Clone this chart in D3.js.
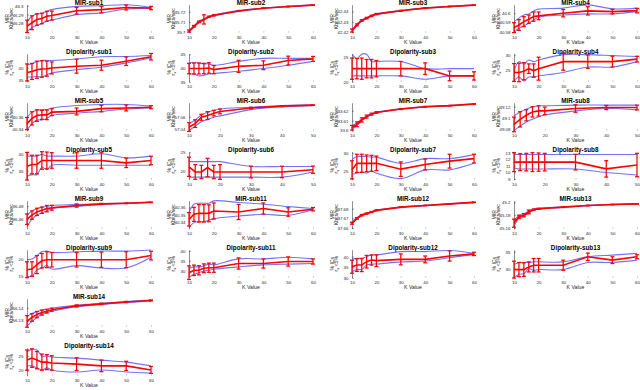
<!DOCTYPE html>
<html>
<head>
<meta charset="utf-8">
<script src="https://cdn.jsdelivr.net/npm/d3@7"></script>
<style>
  body { margin: 0; background: #fff; }
  text { font-family: "Liberation Sans", Arial, sans-serif; }
</style>
</head>
<body>
<script>
// -------------------- DATA --------------------
var kValues = [10, 12, 14, 16, 18, 20, 30, 40, 50, 60];
var kTicks = [10, 20, 30, 40, 50, 60];
var subjects = [1, 2, 3, 4, 5, 6, 7, 8, 9, 11, 12, 13, 14];
var shortSubjects = [6, 8];          // these only go up to K = 50

// MIR (Kbits/sec): red = mean with error bar, blue = lower / upper envelope
var mirMean = [
  [46.2767, 46.2808, 46.2844, 46.2856, 46.2881, 46.2889, 46.2944, 46.2956, 46.2981, 46.2974],
  [35.7010, 35.7057, 35.7100, 35.7124, 35.7150, 35.7164, 35.7207, 35.7234, 35.7250, 35.7264],
  [42.4216, 42.4271, 42.4313, 42.4336, 42.4358, 42.4375, 42.4407, 42.4433, 42.4449, 42.4462],
  [40.5843, 40.5872, 40.5908, 40.5935, 40.5963, 40.5971, 40.6000, 40.6025, 40.6017, 40.6028],
  [40.3491, 40.3572, 40.3616, 40.3627, 40.3627, 40.3670, 40.3681, 40.3725, 40.3735, 40.3746],
  [57.0437, 57.0491, 57.0589, 57.0616, 57.0654, 57.0681, 57.0735, 57.0763, 57.0779],
  [33.6028, 33.6063, 33.6107, 33.6141, 33.6166, 33.6183, 33.6218, 33.6241, 33.6252, 33.6269],
  [49.0890, 49.0980, 49.1051, 49.1110, 49.1128, 49.1128, 49.1170, 49.1187, 49.1187],
  [36.4600, 36.4663, 36.4712, 36.4737, 36.4762, 36.4776, 36.4810, 36.4835, 36.4844, 36.4859],
  [40.3433, 40.3504, 40.3518, 40.3518, 40.3518, 40.3551, 40.3537, 40.3586, 40.3537, 40.3576],
  [37.6650, 37.6700, 37.6733, 37.6750, 37.6766, 37.6783, 37.6816, 37.6833, 37.6850, 37.6866],
  [45.1676, 45.1775, 45.1800, 45.1850, 45.1886, 45.1900, 45.1925, 45.1950, 45.1965, 45.1976],
  [56.1292, 56.1323, 56.1346, 56.1362, 56.1373, 56.1385, 56.1415, 56.1431, 56.1446, 56.1458]
];
var mirErr = [
  [0.0070, 0.0078, 0.0065, 0.0060, 0.0056, 0.0050, 0.0037, 0.0037, 0.0028, 0.0019],
  [0.0010, 0.0008, 0.0007, 0.0045, 0.0006, 0.0007, 0.0005, 0.0004, 0.0003, 0.0003],
  [0.0015, 0.0009, 0.0008, 0.0007, 0.0006, 0.0006, 0.0005, 0.0004, 0.0003, 0.0003],
  [0.0054, 0.0058, 0.0054, 0.0045, 0.0050, 0.0042, 0.0040, 0.0045, 0.0025, 0.0024],
  [0.0095, 0.0103, 0.0090, 0.0070, 0.0075, 0.0054, 0.0054, 0.0051, 0.0046, 0.0024],
  [0.0068, 0.0060, 0.0046, 0.0062, 0.0043, 0.0038, 0.0011, 0.0008, 0.0005],
  [0.0024, 0.0024, 0.0022, 0.0015, 0.0010, 0.0008, 0.0005, 0.0004, 0.0003, 0.0003],
  [0.0129, 0.0134, 0.0098, 0.0090, 0.0090, 0.0066, 0.0066, 0.0036, 0.0042],
  [0.0081, 0.0064, 0.0056, 0.0049, 0.0049, 0.0037, 0.0025, 0.0008, 0.0005, 0.0004],
  [0.0095, 0.0100, 0.0124, 0.0124, 0.0120, 0.0114, 0.0107, 0.0079, 0.0060, 0.0024],
  [0.0010, 0.0008, 0.0007, 0.0006, 0.0005, 0.0005, 0.0004, 0.0003, 0.0003, 0.0003],
  [0.0063, 0.0025, 0.0025, 0.0030, 0.0010, 0.0008, 0.0006, 0.0005, 0.0004, 0.0004],
  [0.0046, 0.0030, 0.0025, 0.0020, 0.0015, 0.0012, 0.0008, 0.0006, 0.0005, 0.0004]
];
var mirLo = [
  [46.2708, 46.2752, 46.2778, 46.2800, 46.2826, 46.2837, 46.2900, 46.2919, 46.2963, 46.2970],
  [35.7002, 35.7045, 35.7090, 35.7116, 35.7144, 35.7159, 35.7203, 35.7231, 35.7248, 35.7262],
  [42.4205, 42.4262, 42.4305, 42.4330, 42.4353, 42.4371, 42.4404, 42.4431, 42.4447, 42.4460],
  [40.5793, 40.5836, 40.5865, 40.5891, 40.5927, 40.5956, 40.5981, 40.5992, 40.5992, 40.6017],
  [40.3384, 40.3491, 40.3546, 40.3546, 40.3572, 40.3616, 40.3654, 40.3681, 40.3719, 40.3735],
  [57.0384, 57.0449, 57.0519, 57.0556, 57.0589, 57.0611, 57.0709, 57.0755, 57.0772],
  [33.6011, 33.6050, 33.6098, 33.6135, 33.6162, 33.6180, 33.6216, 33.6239, 33.6250, 33.6267],
  [49.0783, 49.0860, 49.0932, 49.0980, 49.1026, 49.1057, 49.1128, 49.1170, 49.1146],
  [36.4482, 36.4600, 36.4663, 36.4697, 36.4727, 36.4762, 36.4796, 36.4822, 36.4840, 36.4856],
  [40.3314, 40.3386, 40.3400, 40.3400, 40.3423, 40.3443, 40.3480, 40.3504, 40.3490, 40.3570],
  [37.6640, 37.6693, 37.6728, 37.6746, 37.6763, 37.6780, 37.6814, 37.6831, 37.6848, 37.6864],
  [45.1625, 45.1750, 45.1785, 45.1830, 45.1876, 45.1893, 45.1920, 45.1946, 45.1962, 45.1973],
  [56.1254, 56.1292, 56.1323, 56.1346, 56.1362, 56.1373, 56.1408, 56.1427, 56.1442, 56.1454]
];
var mirHi = [
  [46.2815, 46.2881, 46.2907, 46.2911, 46.2937, 46.2956, 46.2993, 46.3000, 46.3011, 46.2981],
  [35.7016, 35.7062, 35.7106, 35.7129, 35.7154, 35.7168, 35.7210, 35.7236, 35.7252, 35.7266],
  [42.4224, 42.4278, 42.4319, 42.4341, 42.4362, 42.4378, 42.4410, 42.4435, 42.4451, 42.4464],
  [40.5908, 40.5946, 40.5981, 40.5992, 40.6025, 40.6044, 40.6055, 40.6090, 40.6047, 40.6055],
  [40.3589, 40.3670, 40.3698, 40.3709, 40.3709, 40.3735, 40.3774, 40.3790, 40.3790, 40.3763],
  [57.0491, 57.0546, 57.0627, 57.0665, 57.0698, 57.0719, 57.0746, 57.0774, 57.0785],
  [33.6045, 33.6076, 33.6116, 33.6147, 33.6170, 33.6186, 33.6220, 33.6243, 33.6254, 33.6271],
  [49.1039, 49.1110, 49.1159, 49.1200, 49.1218, 49.1218, 49.1230, 49.1230, 49.1230],
  [36.4663, 36.4727, 36.4762, 36.4785, 36.4796, 36.4810, 36.4825, 36.4838, 36.4847, 36.4862],
  [40.3537, 40.3647, 40.3661, 40.3661, 40.3661, 40.3695, 40.3671, 40.3647, 40.3614, 40.3586],
  [37.6658, 37.6706, 37.6738, 37.6754, 37.6769, 37.6786, 37.6818, 37.6835, 37.6852, 37.6868],
  [45.1715, 45.1795, 45.1815, 45.1865, 45.1895, 45.1907, 45.1930, 45.1954, 45.1968, 45.1979],
  [56.1331, 56.1354, 56.1369, 56.1381, 56.1388, 56.1396, 56.1419, 56.1435, 56.1450, 56.1462]
];
var mirYDomain = [
  [46.2695, 46.3012], [35.6994, 35.7268], [42.4195, 42.4466], [40.5788, 40.6092],
  [40.3380, 40.3817], [57.0380, 57.0817], [33.5998, 33.6282], [49.0780, 49.1272],
  [36.4453, 36.4884], [40.3300, 40.3697], [37.6593, 37.6883], [45.1590, 45.2025],
  [56.1250, 56.1472]
];
var mirYTicks = [
  [46.28, 46.29, 46.3], [35.7, 35.71, 35.72], [42.42, 42.43, 42.44], [40.58, 40.59, 40.6],
  [40.34, 40.36], [57.04, 57.06], [33.6, 33.61, 33.62], [49.08, 49.1, 49.12],
  [36.46, 36.48], [40.34, 40.35, 40.36], [37.66, 37.67, 37.68], [45.16, 45.18, 45.2],
  [56.13, 56.14]
];

// Dipolarity (% ICs with r_v < 5%)
var dipMean = [
  [38.2, 38.6, 39.3, 39.6, 39.7, 40.0, 40.7, 41.1, 42.7, 44.5],
  [39.8, 39.8, 39.8, 39.8, 40.0, 39.4, 40.6, 41.0, 42.7, 43.3],
  [22.7, 22.7, 22.7, 22.7, 22.7, 22.7, 22.7, 22.7, 21.2, 21.2],
  [24.4, 24.4, 24.8, 25.6, 25.0, 25.6, 27.8, 27.8, 27.8, 28.6],
  [36.3, 36.8, 36.8, 38.0, 38.0, 38.0, 38.0, 38.0, 37.3, 38.0],
  [21.1, 19.7, 19.7, 20.9, 19.7, 19.7, 19.7, 19.7, 20.3],
  [25.3, 27.1, 27.1, 27.1, 27.1, 27.1, 25.5, 26.8, 27.7, 28.4],
  [11.6, 11.6, 11.6, 11.6, 11.6, 11.6, 11.6, 10.56, 11.15],
  [16.9, 17.1, 18.4, 19.5, 19.8, 19.8, 19.8, 19.8, 19.8, 21.0],
  [29.0, 30.2, 30.2, 31.2, 31.5, 31.5, 33.6, 33.6, 34.6, 34.6],
  [35.2, 36.0, 36.0, 37.6, 38.4, 38.1, 38.7, 38.7, 40.3, 41.3],
  [29.7, 29.7, 29.7, 30.5, 31.0, 31.0, 31.0, 33.5, 32.5, 33.5],
  [23.6, 24.3, 23.6, 22.9, 22.9, 22.6, 22.2, 21.6, 21.6, 20.2]
];
var dipErr = [
  [3.4, 3.2, 3.4, 3.3, 3.0, 2.4, 2.8, 2.0, 1.7, 1.3],
  [1.9, 2.0, 2.0, 1.9, 1.9, 1.5, 2.2, 1.6, 1.6, 0.9],
  [2.2, 2.1, 2.2, 1.9, 1.9, 1.7, 1.5, 1.2, 1.0, 0.85],
  [2.8, 2.9, 2.7, 1.5, 2.1, 3.6, 2.7, 2.1, 1.7, 0.9],
  [4.1, 2.75, 2.75, 2.6, 2.5, 2.3, 2.3, 2.3, 1.4, 1.25],
  [2.6, 2.0, 1.8, 2.5, 1.8, 2.0, 1.6, 1.55, 1.0],
  [2.5, 2.5, 2.5, 2.3, 2.2, 2.0, 2.0, 1.5, 1.9, 1.2],
  [1.45, 1.3, 1.35, 1.45, 1.4, 1.35, 1.2, 1.26, 1.8],
  [2.3, 2.1, 2.6, 2.1, 2.3, 2.1, 2.1, 2.2, 2.3, 1.25],
  [3.4, 2.6, 2.3, 2.2, 2.3, 2.3, 2.8, 2.3, 2.3, 1.3],
  [3.1, 3.0, 3.1, 3.0, 2.4, 2.8, 2.6, 1.6, 2.4, 0.8],
  [2.5, 2.1, 2.0, 1.5, 2.0, 2.0, 1.5, 1.1, 1.0, 0.6],
  [3.5, 3.2, 3.0, 2.8, 2.6, 2.5, 2.2, 2.0, 1.6, 1.2]
];
var dipLo = [
  [36.4, 36.4, 36.6, 36.4, 37.3, 38.0, 39.3, 40.3, 42.0, 44.0],
  [37.8, 37.8, 37.1, 37.4, 37.8, 38.0, 38.8, 39.8, 41.0, 42.4],
  [21.2, 21.2, 21.2, 21.2, 21.2, 21.2, 21.2, 20.5, 21.2, 21.2],
  [21.7, 23.0, 21.7, 23.0, 23.0, 23.3, 24.4, 26.1, 26.1, 27.8],
  [33.3, 33.8, 33.8, 36.0, 35.3, 36.6, 36.6, 36.6, 36.6, 36.6],
  [18.3, 18.3, 18.3, 18.3, 18.3, 18.3, 18.3, 18.3, 19.7],
  [24.0, 24.4, 24.8, 24.4, 25.0, 24.4, 22.9, 25.3, 25.3, 27.1],
  [10.7, 10.55, 10.55, 10.55, 10.55, 10.55, 10.55, 10.0, 9.63],
  [15.0, 15.0, 16.9, 17.4, 18.1, 17.1, 18.1, 17.4, 17.4, 20.5],
  [26.7, 28.1, 29.0, 29.8, 30.2, 30.7, 31.9, 32.9, 33.3, 33.6],
  [32.7, 33.9, 33.9, 36.0, 36.5, 36.5, 37.5, 37.9, 39.5, 41.0],
  [27.3, 28.3, 28.5, 30.0, 29.5, 29.7, 29.7, 31.8, 31.8, 32.5],
  [21.6, 21.6, 20.9, 20.2, 20.9, 20.2, 19.5, 20.2, 19.5, 19.1]
];
var dipHi = [
  [41.2, 41.7, 42.6, 43.0, 43.0, 43.0, 43.6, 44.5, 44.6, 45.0],
  [41.8, 42.1, 41.8, 41.5, 41.5, 41.0, 42.4, 43.5, 43.5, 43.5],
  [25.7, 24.8, 25.7, 25.7, 24.2, 24.2, 24.2, 22.7, 22.7, 22.7],
  [24.8, 27.8, 27.0, 28.3, 27.8, 28.3, 30.0, 30.0, 29.7, 29.4],
  [39.3, 39.3, 39.3, 39.8, 39.3, 39.3, 39.3, 40.0, 38.8, 39.3],
  [22.5, 22.5, 22.5, 22.5, 22.5, 22.5, 21.2, 21.2, 21.2],
  [28.2, 29.0, 29.0, 29.0, 28.8, 28.8, 27.1, 28.4, 28.4, 29.5],
  [12.76, 12.76, 12.76, 12.76, 12.76, 12.76, 12.76, 12.76, 12.76],
  [19.8, 20.0, 21.0, 22.1, 22.3, 21.9, 22.1, 22.3, 22.3, 22.6],
  [31.2, 31.9, 31.9, 32.4, 33.3, 32.9, 35.9, 35.9, 36.7, 35.9],
  [38.7, 39.2, 39.2, 40.0, 40.8, 40.8, 42.4, 42.4, 42.9, 41.6],
  [31.2, 31.8, 31.8, 31.8, 32.0, 32.0, 32.0, 33.5, 34.0, 34.5],
  [26.4, 27.4, 27.1, 25.0, 25.0, 24.7, 24.3, 23.6, 22.9, 21.6]
];
var dipYDomain = [
  [34.5, 45.7], [35, 45.2], [20, 25.8], [21.5, 30.3],
  [32.3, 40.6], [17.6, 25.2], [22.6, 30.3], [8.9, 13.2],
  [14.6, 22.7], [26.5, 40.5], [30, 43.3], [27.3, 35.6],
  [18.2, 27.9]
];
var dipYTicks = [
  [35, 40], [35, 40, 45], [20, 25], [25, 30],
  [35, 40], [20, 25], [25, 30], [9, 10, 11, 12, 13],
  [15, 20], [30, 35, 40], [30, 35, 40], [30, 35],
  [20, 25]
];

// -------------------- LAYOUT --------------------
var W = 640, H = 390;
var colX = [[27, 151], [189, 313], [352, 474], [514, 637]];
var rowTop0 = 4.7, rowStep = 49, plotH = 28;
var tickFont = 4.4, labelFont = 5.2;

var svg = d3.select("body").append("svg")
  .attr("width", W)
  .attr("height", H);

var fmt = function(v) { return String(+v.toFixed(4)); };

function drawPanel(p) {
  var ks = kValues.slice(0, p.mean.length);
  var x0 = colX[p.col][0], x1 = colX[p.col][1];
  var top = rowTop0 + rowStep * p.row, bottom = top + plotH;

  var x = d3.scaleLinear().domain([10, ks[ks.length - 1]]).range([x0, x1]);
  var y = d3.scaleLinear().domain(p.domain).range([bottom, top]);

  var g = svg.append("g");

  // x axis: ticks + labels only
  var xa = g.append("g")
    .attr("transform", "translate(0," + bottom + ")")
    .call(d3.axisBottom(x)
      .tickValues(kTicks.filter(function(t) { return t <= ks[ks.length - 1]; }))
      .tickSize(-1.5).tickSizeOuter(0).tickPadding(3.4));
  xa.select(".domain").remove();
  xa.selectAll("line").attr("stroke", "#999").attr("stroke-width", 0.6);
  xa.selectAll("text").attr("font-size", tickFont).attr("fill", "#262626")
    .attr("font-family", "Liberation Sans, Arial, sans-serif");

  // y axis
  var ya = g.append("g")
    .attr("transform", "translate(" + x0 + ",0)")
    .call(d3.axisLeft(y).tickValues(p.ticks).tickFormat(fmt)
      .tickSize(-1.8).tickSizeOuter(0).tickPadding(3.5));
  ya.select(".domain").attr("stroke", "#444").attr("stroke-width", 0.6);
  ya.selectAll("line").attr("stroke", "#444").attr("stroke-width", 0.6);
  ya.selectAll("text").attr("font-size", tickFont).attr("fill", "#262626")
    .attr("font-family", "Liberation Sans, Arial, sans-serif");

  // labels
  g.append("text")
    .attr("x", (x0 + x1) / 2).attr("y", bottom + 11.3)
    .attr("text-anchor", "middle").attr("font-size", labelFont).attr("fill", "#262626")
    .text("K Value");

  var cy = (top + bottom) / 2;
  g.append("text")
    .attr("transform", "translate(" + (x0 - 19.8) + "," + cy + ") rotate(-90)")
    .attr("text-anchor", "middle").attr("dominant-baseline", "middle")
    .attr("font-size", labelFont).attr("fill", "#262626")
    .text(p.ylab[0]);
  var l2 = g.append("text")
    .attr("transform", "translate(" + (x0 - 15) + "," + cy + ") rotate(-90)")
    .attr("text-anchor", "middle").attr("dominant-baseline", "middle")
    .attr("font-size", labelFont).attr("fill", "#262626");
  if (p.kind === "dip") {
    l2.append("tspan").text("r");
    l2.append("tspan").attr("font-size", 3.8).attr("dy", 1).text("v");
    l2.append("tspan").attr("dy", -1).text(" <5%");
  } else {
    l2.text(p.ylab[1]);
  }

  g.append("text")
    .attr("x", (x0 + x1) / 2).attr("y", top - 0.2)
    .attr("text-anchor", "middle").attr("font-size", 6.3)
    .attr("font-weight", "bold").attr("fill", "#000")
    .text(p.title);

  // blue envelope
  var blueLine = d3.line()
    .x(function(d, i) { return x(ks[i]); })
    .y(function(d) { return y(d); })
    .curve(d3.curveCatmullRom);
  [p.lo, p.hi].forEach(function(arr) {
    g.append("path").attr("d", blueLine(arr))
      .attr("fill", "none").attr("stroke", "#4f4fff")
      .attr("stroke-opacity", 0.8).attr("stroke-width", 1.1);
  });

  // red mean line
  var redLine = d3.line()
    .x(function(d, i) { return x(ks[i]); })
    .y(function(d) { return y(d); });
  g.append("path").attr("d", redLine(p.mean))
    .attr("fill", "none").attr("stroke", "#ff0000").attr("stroke-width", 1.6);

  // error bars
  var eb = g.selectAll(".eb").data(p.mean).enter().append("g");
  eb.append("line")
    .attr("x1", function(d, i) { return x(ks[i]); })
    .attr("x2", function(d, i) { return x(ks[i]); })
    .attr("y1", function(d, i) { return y(d - p.err[i]); })
    .attr("y2", function(d, i) { return y(d + p.err[i]); });
  eb.append("line")
    .attr("x1", function(d, i) { return x(ks[i]) - 2; })
    .attr("x2", function(d, i) { return x(ks[i]) + 2; })
    .attr("y1", function(d, i) { return y(d - p.err[i]); })
    .attr("y2", function(d, i) { return y(d - p.err[i]); });
  eb.append("line")
    .attr("x1", function(d, i) { return x(ks[i]) - 2; })
    .attr("x2", function(d, i) { return x(ks[i]) + 2; })
    .attr("y1", function(d, i) { return y(d + p.err[i]); })
    .attr("y2", function(d, i) { return y(d + p.err[i]); });
  eb.selectAll("line").attr("stroke", "#ff0000").attr("stroke-width", 1.25);
}

// -------------------- DRAW ALL PANELS --------------------
subjects.forEach(function(s, i) {
  var col = i % 4, grp = Math.floor(i / 4);
  drawPanel({
    kind: "mir", col: col, row: grp * 2,
    title: "MIR-sub" + s, ylab: ["MIR", "Kbits/sec"],
    mean: mirMean[i], err: mirErr[i], lo: mirLo[i], hi: mirHi[i],
    domain: mirYDomain[i], ticks: mirYTicks[i]
  });
  drawPanel({
    kind: "dip", col: col, row: grp * 2 + 1,
    title: "Dipolarity-sub" + s, ylab: ["% ICs", "r_v <5%"],
    mean: dipMean[i], err: dipErr[i], lo: dipLo[i], hi: dipHi[i],
    domain: dipYDomain[i], ticks: dipYTicks[i]
  });
});
</script>
</body>
</html>
